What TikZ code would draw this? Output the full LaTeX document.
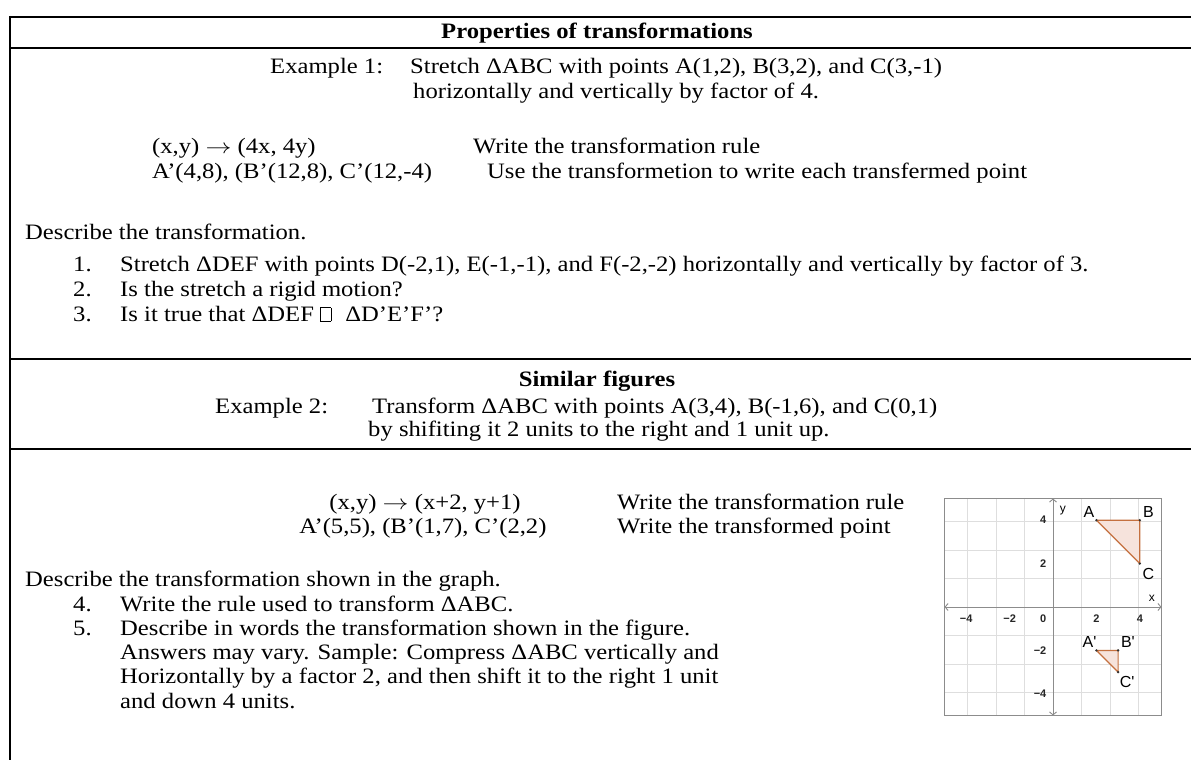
\documentclass[tikz,border=0pt]{standalone}
\usepackage{fontspec}
\setmainfont{Liberation Serif}[FakeStretch=1.12]
\newfontfamily\graphfont{Liberation Sans}
\usetikzlibrary{arrows.meta}
\newcommand{\missingglyph}{{\fboxsep=0pt\fboxrule=0.6pt\fbox{\rule{0pt}{13pt}\hspace{10pt}}}}
\newcommand{\maparrow}{\scalebox{1.25}[1]{$\rightarrow$}}
\begin{document}
\begin{tikzpicture}[x=1pt,y=-1pt,
  txt/.style={anchor=base west, inner sep=0pt, font=\fontsize{22}{24}\selectfont},
  ctr/.style={anchor=base, inner sep=0pt, font=\fontsize{22}{24}\selectfont},
  head/.style={anchor=base, inner sep=0pt, font=\fontsize{22}{24}\selectfont\bfseries},
  tablerule/.style={line width=2pt, black},
  gridline/.style={line width=0.6pt, black!13},
  frameline/.style={line width=0.8pt, black!45},
  axisline/.style={line width=0.9pt, black!45, {Straight Barb[length=3pt,width=7pt]}-{Straight Barb[length=3pt,width=7pt]}},
  tick/.style={inner sep=0pt, font=\graphfont\bfseries\fontsize{11}{11}\selectfont, text=black!85},
  ptlabel/.style={inner sep=0pt, font=\graphfont\fontsize{16}{16}\selectfont},
  tri/.style={draw=triorange, fill=tripink, line width=1.2pt, line join=round},
  vdot/.style={circle, fill=black!80, inner sep=0pt, minimum size=2.6pt}
]
\definecolor{triorange}{HTML}{C4703F}
\definecolor{tripink}{HTML}{F6E3DC}
\useasboundingbox (0,0) rectangle (1191,760);
\fill[white] (0,0) rectangle (1191,760);

% table rules
\draw[tablerule] (9,17) -- (1191,17);
\draw[tablerule] (9,48) -- (1191,48);
\draw[tablerule] (9,359) -- (1191,359);
\draw[tablerule] (9,449) -- (1191,449);
\draw[tablerule] (10,16) -- (10,760);

% section 1
\node[head] (t1) at (597,39) {Properties of transformations};
\node[txt] (ex1) at (270,74) {Example 1:};
\node[txt] (ex1a) at (410,74) {Stretch ΔABC with points A(1,2), B(3,2), and C(3,-1)};
\node[txt] (ex1b) at (413,98) {horizontally and vertically by factor of 4.};
\node[txt] (r1) at (152,153) {(x,y) \maparrow\ (4x, 4y)};
\node[txt] (r1n) at (473,153) {Write the transformation rule};
\node[txt] (p1) at (152,178) {A’(4,8), (B’(12,8), C’(12,-4)};
\node[txt] (p1n) at (487,178) {Use the transformetion to write each transfermed point};
\node[txt] (d1) at (25,239) {Describe the transformation.};
\node[txt] (n1) at (73,271) {1.};
\node[txt] (q1) at (120,271) {Stretch ΔDEF with points D(-2,1), E(-1,-1), and F(-2,-2) horizontally and vertically by factor of 3.};
\node[txt] (n2) at (73,296) {2.};
\node[txt] (q2) at (120,296) {Is the stretch a rigid motion?};
\node[txt] (n3) at (73,321) {3.};
\node[txt] (q3) at (120,321) {Is it true that ΔDEF \missingglyph\hspace{14pt}ΔD’E’F’?};

% section 2
\node[head] (t2) at (597,386) {Similar figures};
\node[txt] (ex2) at (215,413) {Example 2:};
\node[txt] (ex2a) at (372,413) {Transform ΔABC with points A(3,4), B(-1,6), and C(0,1)};
\node[txt] (ex2b) at (368,436) {by shifiting it 2 units to the right and 1 unit up.};

% section 3
\node[ctr] (r2) at (425,509) {(x,y) \maparrow\ (x+2, y+1)};
\node[txt] (r2n) at (617,509) {Write the transformation rule};
\node[ctr] (p2) at (423,533) {A’(5,5), (B’(1,7), C’(2,2)};
\node[txt] (p2n) at (617,533) {Write the transformed point};
\node[txt] (d2) at (25,586) {Describe the transformation shown in the graph.};
\node[txt] (n4) at (73,611) {4.};
\node[txt] (q4) at (120,611) {Write the rule used to transform ΔABC.};
\node[txt] (n5) at (73,635) {5.};
\node[txt] (q5) at (120,635) {Describe in words the transformation shown in the figure.};
\node[txt] (q5a) at (120,659) {Answers may vary. Sample: Compress ΔABC vertically and};
\node[txt] (q5b) at (120,683) {Horizontally by a factor 2, and then shift it to the right 1 unit};
\node[txt] (q5c) at (120,708) {and down 4 units.};

% graph
\begin{scope}[shift={(1053,607)}, x=21.7pt, y=21.7pt]
  \draw[gridline] (-5,-5) grid (5,5);
  \draw[frameline] (-5,-5) rectangle (5,5);
  \draw[axisline] (-5,0) -- (5,0);
  \draw[axisline] (0,-5) -- (0,5);
  \foreach \v/\l in {-4/−4,-2/−2,2/2,4/4}{
    \node[tick] at (\v,-0.55) {\l};
  }
  \node[tick] at (-0.45,-0.55) {0};
  \foreach \v/\l in {4/4,2/2,-2/−2,-4/−4}{
    \node[tick, anchor=east] at (-0.3,\v) {\l};
  }
  \node[ptlabel, font=\graphfont\fontsize{12}{12}\selectfont] (xl) at (4.55,0.42) {x};
  \node[ptlabel, font=\graphfont\fontsize{12}{12}\selectfont] (yl) at (0.45,4.45) {y};
  % triangle ABC
  \coordinate (A) at (2,4);
  \coordinate (B) at (4,4);
  \coordinate (C) at (4,2);
  \filldraw[tri] (A) -- (B) -- (C) -- cycle;
  \node[vdot] at (A) {};
  \node[vdot] at (B) {};
  \node[vdot] at (C) {};
  \node[ptlabel] (la) at (1.66,4.36) {A};
  \node[ptlabel] (lb) at (4.4,4.36) {B};
  \node[ptlabel] (lc) at (4.4,1.5) {C};
  % triangle A'B'C'
  \coordinate (A2) at (2,-2);
  \coordinate (B2) at (3,-2);
  \coordinate (C2) at (3,-3);
  \filldraw[tri] (A2) -- (B2) -- (C2) -- cycle;
  \node[vdot] at (A2) {};
  \node[vdot] at (B2) {};
  \node[vdot] at (C2) {};
  \node[ptlabel] (la2) at (1.68,-1.6) {A'};
  \node[ptlabel] (lb2) at (3.45,-1.62) {B'};
  \node[ptlabel] (lc2) at (3.42,-3.45) {C'};
\end{scope}
\end{tikzpicture}
\end{document}
